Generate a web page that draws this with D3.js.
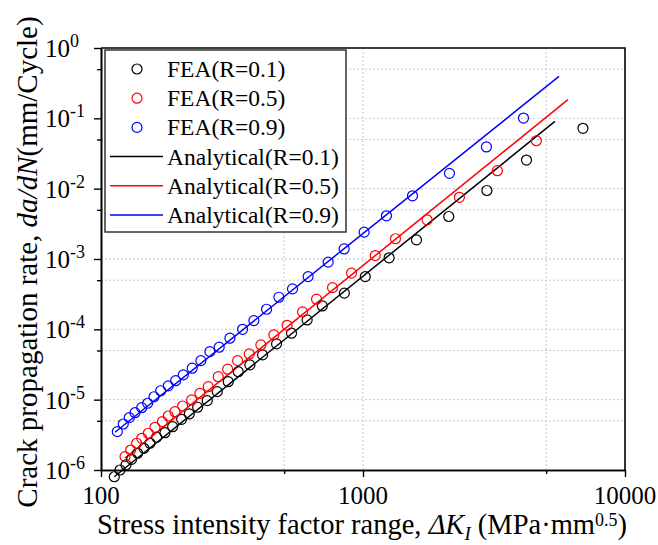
<!DOCTYPE html>
<html>
<head>
<meta charset="utf-8">
<script src="https://cdn.jsdelivr.net/npm/d3@7"></script>
<style>
  body { margin: 0; background: #fff; }
  text { font-family: "Liberation Serif", "Times New Roman", serif; fill: #000; }
</style>
</head>
<body>
<script>
// ---- data: [ΔK (MPa·mm^0.5), da/dN (mm/cycle)] ----
var feaR01 = [
  [112.4, 8.02e-7], [118.2, 1.00e-6], [124.5, 1.18e-6], [130.9, 1.42e-6], [138.0, 1.73e-6],
  [145.9, 2.03e-6], [153.8, 2.40e-6], [163.1, 2.92e-6], [175.4, 3.39e-6], [187.7, 4.13e-6],
  [203.2, 5.26e-6], [217.2, 6.26e-6], [233.8, 7.80e-6], [254.4, 9.68e-6], [277.7, 1.30e-5],
  [305.9, 1.80e-5], [334.0, 2.50e-5], [370.1, 3.12e-5], [413.7, 4.33e-5], [467.8, 6.21e-5],
  [533.6, 8.81e-5], [612.0, 1.36e-4], [699.5, 2.15e-4], [848.8, 3.27e-4], [1020, 5.62e-4],
  [1258, 1.04e-3], [1600, 1.87e-3], [2125, 4.02e-3], [2971, 9.42e-3], [4207, 2.55e-2],
  [6910, 7.22e-2]
];
var feaR05 = [
  [123.5, 1.55e-6], [129.8, 1.92e-6], [136.8, 2.40e-6], [143.0, 2.82e-6], [151.5, 3.33e-6],
  [160.7, 4.05e-6], [171.4, 4.86e-6], [180.6, 5.86e-6], [191.5, 6.75e-6], [204.9, 8.13e-6],
  [221.8, 9.91e-6], [238.5, 1.23e-5], [256.6, 1.53e-5], [280.2, 2.12e-5], [304.3, 2.71e-5],
  [332.2, 3.59e-5], [367.9, 4.47e-5], [407.6, 6.00e-5], [456.8, 8.33e-5], [513.4, 1.14e-4],
  [587.9, 1.77e-4], [664.7, 2.68e-4], [765.1, 3.92e-4], [903.7, 6.29e-4], [1114, 1.12e-3],
  [1330, 1.94e-3], [1756, 3.61e-3], [2333, 7.54e-3], [3258, 1.80e-2], [4588, 4.80e-2]
];
var feaR09 = [
  [115.4, 3.51e-6], [121.6, 4.51e-6], [128.2, 5.55e-6], [134.8, 6.53e-6], [143.0, 7.69e-6],
  [150.7, 8.89e-6], [159.3, 1.10e-5], [169.0, 1.34e-5], [180.6, 1.57e-5], [192.7, 1.86e-5],
  [206.0, 2.25e-5], [222.9, 2.80e-5], [240.6, 3.59e-5], [260.4, 4.82e-5], [282.6, 5.57e-5],
  [310.5, 7.48e-5], [347.0, 1.00e-4], [383.2, 1.33e-4], [428.5, 1.93e-4], [477.5, 2.86e-4],
  [538.3, 3.76e-4], [617.4, 5.62e-4], [736.1, 9.02e-4], [847.3, 1.39e-3], [1010, 2.41e-3],
  [1229, 4.11e-3], [1545, 7.91e-3], [2138, 1.65e-2], [2958, 3.92e-2], [4098, 0.101]
];
// analytical lines are straight on log-log axes: first and last point
var anaR01 = [[112.4, 8.02e-7], [5402, 0.0903]];
var anaR05 = [[123.5, 1.48e-6], [6056, 0.184]];
var anaR09 = [[113.1, 3.44e-6], [5597, 0.394]];

var xMajor = [100, 1000, 10000];
var xMinor = [500, 5000];
var yMajor = [1e-6, 1e-5, 1e-4, 1e-3, 1e-2, 1e-1, 1];
var yMinor = [5e-6, 5e-5, 5e-4, 5e-3, 5e-2, 5e-1];
var yExp = ['-6', '-5', '-4', '-3', '-2', '-1', '0'];

var series = [
  { label: 'FEA(R=0.1)', pts: feaR01, line: anaR01, lineLabel: 'Analytical(R=0.1)', color: '#000' },
  { label: 'FEA(R=0.5)', pts: feaR05, line: anaR05, lineLabel: 'Analytical(R=0.5)', color: '#ff0000' },
  { label: 'FEA(R=0.9)', pts: feaR09, line: anaR09, lineLabel: 'Analytical(R=0.9)', color: '#0000ff' }
];

var width = 658, height = 545;
var plotL = 101, plotR = 625, plotT = 48, plotB = 470;

var svg = d3.select('body').append('svg')
  .attr('width', width)
  .attr('height', height);

var x = d3.scaleLog().domain([100, 10000]).range([plotL, plotR]);
var y = d3.scaleLog().domain([1e-6, 1]).range([plotB, plotT]);

// grid
var grid = svg.append('g')
  .attr('stroke', '#c8c8c8')
  .attr('stroke-width', 1)
  .attr('stroke-dasharray', '2,2');
xMinor.concat([1000]).forEach(function(v) {
  grid.append('line')
    .attr('x1', x(v)).attr('x2', x(v))
    .attr('y1', plotT).attr('y2', plotB);
});
yMajor.slice(1, -1).concat(yMinor).forEach(function(v) {
  grid.append('line')
    .attr('x1', plotL).attr('x2', plotR)
    .attr('y1', y(v)).attr('y2', y(v));
});

// analytical lines
var line = d3.line().x(function(d) { return x(d[0]); }).y(function(d) { return y(d[1]); });
series.forEach(function(s) {
  svg.append('path')
    .attr('d', line(s.line))
    .attr('fill', 'none')
    .attr('stroke', s.color)
    .attr('stroke-width', 1.5);
});

// FEA circles
series.forEach(function(s) {
  svg.append('g').selectAll('circle')
    .data(s.pts)
    .enter().append('circle')
      .attr('cx', function(d) { return x(d[0]); })
      .attr('cy', function(d) { return y(d[1]); })
      .attr('r', 5)
      .attr('fill', 'none')
      .attr('stroke', s.color)
      .attr('stroke-width', 1.2);
});

// axes
function styleAxis(g) {
  g.select('.domain').attr('stroke', '#000').attr('stroke-width', 1.6);
  g.selectAll('.tick line').attr('stroke', '#000').attr('stroke-width', 1.4);
  g.selectAll('.tick text').remove();
}
svg.append('g')
  .attr('transform', 'translate(0,' + plotB + ')')
  .call(d3.axisBottom(x).tickValues(xMajor).tickSize(7).tickSizeOuter(0))
  .call(styleAxis);
svg.append('g')
  .attr('transform', 'translate(0,' + plotB + ')')
  .call(d3.axisBottom(x).tickValues(xMinor).tickSize(4).tickSizeOuter(0))
  .call(styleAxis);
svg.append('g')
  .attr('transform', 'translate(' + plotL + ',0)')
  .call(d3.axisLeft(y).tickValues(yMajor).tickSize(7).tickSizeOuter(0))
  .call(styleAxis);
svg.append('g')
  .attr('transform', 'translate(' + plotL + ',0)')
  .call(d3.axisLeft(y).tickValues(yMinor).tickSize(4).tickSizeOuter(0))
  .call(styleAxis);

// top and right frame
svg.append('path')
  .attr('d', 'M' + plotL + ',' + plotT + 'H' + plotR + 'V' + plotB)
  .attr('fill', 'none')
  .attr('stroke', '#000')
  .attr('stroke-width', 1.6);

// tick labels
xMajor.forEach(function(v) {
  svg.append('text')
    .attr('x', x(v)).attr('y', 504)
    .attr('text-anchor', 'middle')
    .attr('font-size', 25)
    .text(d3.format('d')(v));
});
yMajor.forEach(function(v, i) {
  var t = svg.append('text')
    .attr('x', 45).attr('y', y(v) + 9)
    .attr('font-size', 25);
  t.append('tspan').text('10');
  t.append('tspan').attr('font-size', 18).attr('dy', -10).text(yExp[i]);
});

// axis titles
var xt = svg.append('text')
  .attr('x', 362).attr('y', 534)
  .attr('text-anchor', 'middle')
  .attr('font-size', 28.5);
xt.append('tspan').text('Stress intensity factor range, ');
xt.append('tspan').attr('font-style', 'italic').text('ΔK');
xt.append('tspan').attr('font-style', 'italic').attr('font-size', 19).attr('dy', 6).text('I');
xt.append('tspan').attr('dy', -6).text(' (MPa·mm');
xt.append('tspan').attr('font-size', 18).attr('dy', -8).text('0.5');
xt.append('tspan').attr('dy', 8).text(')');

var yt = svg.append('text')
  .attr('transform', 'translate(37,262) rotate(-90)')
  .attr('text-anchor', 'middle')
  .attr('font-size', 29);
yt.append('tspan').text('Crack propagation rate, ');
yt.append('tspan').attr('font-style', 'italic').text('da/dN');
yt.append('tspan').text('(mm/Cycle)');

// legend
var legend = svg.append('g');
legend.append('rect')
  .attr('x', 105).attr('y', 50)
  .attr('width', 241).attr('height', 182)
  .attr('fill', '#fff')
  .attr('stroke', '#333')
  .attr('stroke-width', 1.5);
var rowY = d3.scaleLinear().domain([0, 5]).range([69, 215]);
series.forEach(function(s, i) {
  legend.append('circle')
    .attr('cx', 137).attr('cy', rowY(i))
    .attr('r', 5)
    .attr('fill', 'none')
    .attr('stroke', s.color)
    .attr('stroke-width', 1.2);
  legend.append('text')
    .attr('x', 167).attr('y', rowY(i) + 8)
    .attr('font-size', 23.5)
    .text(s.label);
});
series.forEach(function(s, i) {
  var yy = rowY(i + 3);
  legend.append('line')
    .attr('x1', 110).attr('x2', 163)
    .attr('y1', yy).attr('y2', yy)
    .attr('stroke', s.color)
    .attr('stroke-width', 1.5);
  legend.append('text')
    .attr('x', 167).attr('y', yy + 8)
    .attr('font-size', 23.5)
    .text(s.lineLabel);
});
</script>
</body>
</html>
